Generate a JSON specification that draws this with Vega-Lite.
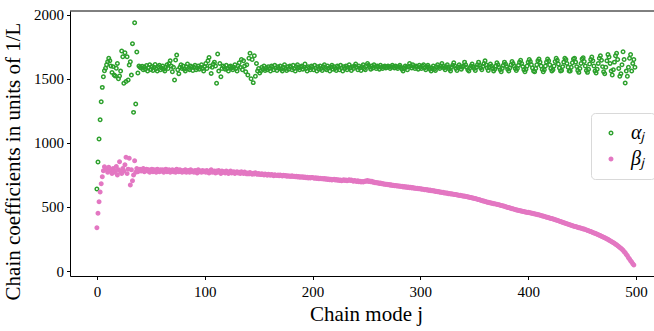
{
"$schema": "https://vega.github.io/schema/vega-lite/v6.json",
"width": 584, "height": 265,
"autosize": {"type": "none"},
"padding": {"left": 70, "top": 11, "right": 0, "bottom": 55},
"background": "white",
"config": {"view": {"stroke": null}, "font": "Liberation Serif",
  "axis": {"grid": false, "domainColor": "black", "domainWidth": 1, "tickColor": "black", "tickSize": 3.5, "tickWidth": 1, "labelFont": "Liberation Serif", "labelFontSize": 15, "labelColor": "black", "titleFont": "Liberation Serif", "titleFontSize": 21, "titleFontWeight": "normal", "titleColor": "black", "format": "d"}},
"layer": [
{"data": {"values": [
{"j":0,"a":640,"b":338},{"j":1,"a":851,"b":450},{"j":2,"a":1030,"b":541},{"j":3,"a":1180,"b":616},{"j":4,"a":1321,"b":681},{"j":5,"a":1433,"b":736},{"j":6,"a":1516,"b":783},{"j":7,"a":1563,"b":814},{"j":8,"a":1582,"b":800},{"j":9,"a":1610,"b":790},
{"j":10,"a":1633,"b":770},{"j":11,"a":1660,"b":810},{"j":12,"a":1640,"b":795},{"j":13,"a":1600,"b":780},{"j":14,"a":1550,"b":760},{"j":15,"a":1595,"b":800},{"j":16,"a":1529,"b":785},{"j":17,"a":1522,"b":770},{"j":18,"a":1582,"b":815},{"j":19,"a":1620,"b":749},
{"j":20,"a":1500,"b":790},{"j":21,"a":1522,"b":853},{"j":22,"a":1560,"b":775},{"j":23,"a":1717,"b":760},{"j":24,"a":1672,"b":800},{"j":25,"a":1465,"b":780},{"j":26,"a":1703,"b":830},{"j":27,"a":1478,"b":887},{"j":28,"a":1672,"b":760},{"j":29,"a":1490,"b":795},
{"j":30,"a":1607,"b":880},{"j":31,"a":1633,"b":671},{"j":32,"a":1529,"b":790},{"j":33,"a":1774,"b":705},{"j":34,"a":1238,"b":749},{"j":35,"a":1937,"b":860},{"j":36,"a":1303,"b":770},{"j":37,"a":1709,"b":800},{"j":38,"a":1545,"b":775},{"j":39,"a":1600,"b":790},
{"j":40,"a":1590,"b":795},{"j":41,"a":1585,"b":780},{"j":42,"a":1598,"b":790},{"j":43,"a":1570,"b":800},{"j":44,"a":1592,"b":775},{"j":45,"a":1575,"b":785},{"j":46,"a":1604,"b":795},{"j":47,"a":1560,"b":780},{"j":48,"a":1588,"b":790},{"j":49,"a":1610,"b":770},
{"j":50,"a":1572,"b":785},{"j":51,"a":1596,"b":795},{"j":52,"a":1565,"b":775},{"j":53,"a":1590,"b":790},{"j":54,"a":1612,"b":780},{"j":55,"a":1578,"b":770},{"j":56,"a":1560,"b":795},{"j":57,"a":1594,"b":785},{"j":58,"a":1605,"b":775},{"j":59,"a":1570,"b":790},
{"j":60,"a":1585,"b":780},{"j":61,"a":1600,"b":790},{"j":62,"a":1575,"b":770},{"j":63,"a":1560,"b":785},{"j":64,"a":1593,"b":795},{"j":65,"a":1610,"b":775},{"j":66,"a":1580,"b":780},{"j":67,"a":1620,"b":790},{"j":68,"a":1640,"b":770},{"j":69,"a":1600,"b":785},
{"j":70,"a":1555,"b":790},{"j":71,"a":1590,"b":775},{"j":72,"a":1490,"b":785},{"j":73,"a":1646,"b":770},{"j":74,"a":1685,"b":795},{"j":75,"a":1570,"b":780},{"j":76,"a":1540,"b":775},{"j":77,"a":1590,"b":790},{"j":78,"a":1610,"b":780},{"j":79,"a":1580,"b":770},
{"j":80,"a":1600,"b":785},{"j":81,"a":1575,"b":775},{"j":82,"a":1560,"b":790},{"j":83,"a":1595,"b":770},{"j":84,"a":1615,"b":780},{"j":85,"a":1580,"b":785},{"j":86,"a":1570,"b":770},{"j":87,"a":1600,"b":790},{"j":88,"a":1590,"b":775},{"j":89,"a":1565,"b":780},
{"j":90,"a":1590,"b":770},{"j":91,"a":1605,"b":785},{"j":92,"a":1570,"b":780},{"j":93,"a":1585,"b":765},{"j":94,"a":1600,"b":790},{"j":95,"a":1575,"b":775},{"j":96,"a":1590,"b":780},{"j":97,"a":1610,"b":770},{"j":98,"a":1580,"b":785},{"j":99,"a":1560,"b":775},
{"j":100,"a":1595,"b":780},{"j":101,"a":1620,"b":770},{"j":102,"a":1580,"b":785},{"j":103,"a":1640,"b":775},{"j":104,"a":1667,"b":765},{"j":105,"a":1600,"b":780},{"j":106,"a":1542,"b":790},{"j":107,"a":1590,"b":770},{"j":108,"a":1615,"b":775},{"j":109,"a":1630,"b":780},
{"j":110,"a":1600,"b":765},{"j":111,"a":1465,"b":780},{"j":112,"a":1693,"b":770},{"j":113,"a":1560,"b":785},{"j":114,"a":1620,"b":775},{"j":115,"a":1516,"b":760},{"j":116,"a":1580,"b":780},{"j":117,"a":1600,"b":770},{"j":118,"a":1590,"b":775},{"j":119,"a":1575,"b":765},
{"j":120,"a":1605,"b":780},{"j":121,"a":1580,"b":770},{"j":122,"a":1560,"b":760},{"j":123,"a":1595,"b":775},{"j":124,"a":1600,"b":780},{"j":125,"a":1585,"b":765},{"j":126,"a":1570,"b":770},{"j":127,"a":1590,"b":775},{"j":128,"a":1610,"b":760},{"j":129,"a":1580,"b":770},
{"j":130,"a":1560,"b":775},{"j":131,"a":1600,"b":765},{"j":132,"a":1625,"b":770},{"j":133,"a":1590,"b":760},{"j":134,"a":1650,"b":775},{"j":135,"a":1570,"b":768},{"j":136,"a":1640,"b":760},{"j":137,"a":1600,"b":772},{"j":138,"a":1555,"b":765},{"j":139,"a":1610,"b":758},
{"j":140,"a":1530,"b":765},{"j":141,"a":1660,"b":758},{"j":142,"a":1700,"b":768},{"j":143,"a":1500,"b":760},{"j":144,"a":1650,"b":755},{"j":145,"a":1470,"b":763},{"j":146,"a":1680,"b":757},{"j":147,"a":1520,"b":766},{"j":148,"a":1620,"b":759},{"j":149,"a":1560,"b":754},
{"j":150,"a":1580,"b":761},{"j":151,"a":1545,"b":756},{"j":152,"a":1560,"b":752},{"j":153,"a":1590,"b":760},{"j":154,"a":1575,"b":754},{"j":155,"a":1600,"b":749},{"j":156,"a":1565,"b":757},{"j":157,"a":1585,"b":752},{"j":158,"a":1570,"b":748},{"j":159,"a":1595,"b":755},
{"j":160,"a":1580,"b":751},{"j":161,"a":1560,"b":747},{"j":162,"a":1600,"b":754},{"j":163,"a":1590,"b":749},{"j":164,"a":1570,"b":744},{"j":165,"a":1605,"b":752},{"j":166,"a":1585,"b":748},{"j":167,"a":1565,"b":745},{"j":168,"a":1595,"b":750},{"j":169,"a":1580,"b":743},
{"j":170,"a":1600,"b":749},{"j":171,"a":1575,"b":745},{"j":172,"a":1560,"b":741},{"j":173,"a":1590,"b":748},{"j":174,"a":1610,"b":743},{"j":175,"a":1580,"b":746},{"j":176,"a":1565,"b":740},{"j":177,"a":1595,"b":744},{"j":178,"a":1575,"b":739},{"j":179,"a":1600,"b":742},
{"j":180,"a":1590,"b":738},{"j":181,"a":1570,"b":743},{"j":182,"a":1605,"b":737},{"j":183,"a":1580,"b":740},{"j":184,"a":1560,"b":735},{"j":185,"a":1595,"b":739},{"j":186,"a":1610,"b":733},{"j":187,"a":1585,"b":737},{"j":188,"a":1570,"b":732},{"j":189,"a":1590,"b":736},
{"j":190,"a":1600,"b":731},{"j":191,"a":1575,"b":735},{"j":192,"a":1590,"b":729},{"j":193,"a":1615,"b":733},{"j":194,"a":1580,"b":728},{"j":195,"a":1560,"b":731},{"j":196,"a":1595,"b":726},{"j":197,"a":1585,"b":730},{"j":198,"a":1570,"b":725},{"j":199,"a":1600,"b":729},
{"j":200,"a":1590,"b":730},{"j":201,"a":1570,"b":726},{"j":202,"a":1605,"b":723},{"j":203,"a":1585,"b":728},{"j":204,"a":1560,"b":722},{"j":205,"a":1595,"b":725},{"j":206,"a":1575,"b":720},{"j":207,"a":1600,"b":724},{"j":208,"a":1580,"b":719},{"j":209,"a":1565,"b":722},
{"j":210,"a":1595,"b":718},{"j":211,"a":1610,"b":722},{"j":212,"a":1580,"b":716},{"j":213,"a":1570,"b":720},{"j":214,"a":1600,"b":714},{"j":215,"a":1585,"b":718},{"j":216,"a":1560,"b":712},{"j":217,"a":1590,"b":716},{"j":218,"a":1605,"b":711},{"j":219,"a":1575,"b":715},
{"j":220,"a":1595,"b":716},{"j":221,"a":1580,"b":710},{"j":222,"a":1565,"b":714},{"j":223,"a":1600,"b":708},{"j":224,"a":1590,"b":712},{"j":225,"a":1570,"b":707},{"j":226,"a":1605,"b":711},{"j":227,"a":1585,"b":705},{"j":228,"a":1560,"b":709},{"j":229,"a":1595,"b":713},
{"j":230,"a":1580,"b":706},{"j":231,"a":1600,"b":710},{"j":232,"a":1570,"b":704},{"j":233,"a":1590,"b":708},{"j":234,"a":1610,"b":712},{"j":235,"a":1585,"b":706},{"j":236,"a":1565,"b":710},{"j":237,"a":1595,"b":704},{"j":238,"a":1580,"b":700},{"j":239,"a":1600,"b":706},
{"j":240,"a":1615,"b":702},{"j":241,"a":1590,"b":698},{"j":242,"a":1570,"b":704},{"j":243,"a":1600,"b":697},{"j":244,"a":1585,"b":701},{"j":245,"a":1565,"b":695},{"j":246,"a":1595,"b":699},{"j":247,"a":1610,"b":694},{"j":248,"a":1580,"b":698},{"j":249,"a":1570,"b":703},
{"j":250,"a":1600,"b":700},{"j":251,"a":1620,"b":706},{"j":252,"a":1605,"b":699},{"j":253,"a":1590,"b":703},{"j":254,"a":1575,"b":696},{"j":255,"a":1600,"b":700},{"j":256,"a":1585,"b":692},{"j":257,"a":1610,"b":695},{"j":258,"a":1595,"b":688},{"j":259,"a":1580,"b":690},
{"j":260,"a":1600,"b":686},{"j":261,"a":1590,"b":689},{"j":262,"a":1575,"b":683},{"j":263,"a":1605,"b":686},{"j":264,"a":1590,"b":680},{"j":265,"a":1580,"b":683},{"j":266,"a":1595,"b":677},{"j":267,"a":1600,"b":680},{"j":268,"a":1585,"b":675},{"j":269,"a":1590,"b":678},
{"j":270,"a":1600,"b":673},{"j":271,"a":1595,"b":676},{"j":272,"a":1580,"b":670},{"j":273,"a":1590,"b":673},{"j":274,"a":1605,"b":667},{"j":275,"a":1595,"b":670},{"j":276,"a":1585,"b":665},{"j":277,"a":1600,"b":668},{"j":278,"a":1590,"b":663},{"j":279,"a":1580,"b":665},
{"j":280,"a":1595,"b":661},{"j":281,"a":1605,"b":664},{"j":282,"a":1590,"b":659},{"j":283,"a":1575,"b":662},{"j":284,"a":1560,"b":656},{"j":285,"a":1585,"b":659},{"j":286,"a":1600,"b":654},{"j":287,"a":1590,"b":657},{"j":288,"a":1570,"b":652},{"j":289,"a":1595,"b":655},
{"j":290,"a":1620,"b":650},{"j":291,"a":1600,"b":653},{"j":292,"a":1585,"b":648},{"j":293,"a":1610,"b":651},{"j":294,"a":1595,"b":646},{"j":295,"a":1580,"b":648},{"j":296,"a":1600,"b":643},{"j":297,"a":1590,"b":646},{"j":298,"a":1575,"b":641},{"j":299,"a":1605,"b":643},
{"j":300,"a":1590,"b":639},{"j":301,"a":1580,"b":642},{"j":302,"a":1600,"b":637},{"j":303,"a":1610,"b":639},{"j":304,"a":1585,"b":634},{"j":305,"a":1570,"b":637},{"j":306,"a":1595,"b":632},{"j":307,"a":1605,"b":634},{"j":308,"a":1590,"b":629},{"j":309,"a":1575,"b":632},
{"j":310,"a":1560,"b":627},{"j":311,"a":1585,"b":629},{"j":312,"a":1600,"b":624},{"j":313,"a":1575,"b":626},{"j":314,"a":1565,"b":621},{"j":315,"a":1595,"b":623},{"j":316,"a":1610,"b":618},{"j":317,"a":1590,"b":620},{"j":318,"a":1580,"b":615},{"j":319,"a":1600,"b":617},
{"j":320,"a":1620,"b":612},{"j":321,"a":1600,"b":614},{"j":322,"a":1585,"b":609},{"j":323,"a":1570,"b":611},{"j":324,"a":1595,"b":606},{"j":325,"a":1610,"b":608},{"j":326,"a":1590,"b":603},{"j":327,"a":1575,"b":605},{"j":328,"a":1560,"b":601},{"j":329,"a":1590,"b":603},
{"j":330,"a":1605,"b":599},{"j":331,"a":1625,"b":600},{"j":332,"a":1600,"b":596},{"j":333,"a":1580,"b":597},{"j":334,"a":1565,"b":593},{"j":335,"a":1590,"b":594},{"j":336,"a":1610,"b":590},{"j":337,"a":1595,"b":591},{"j":338,"a":1575,"b":587},{"j":339,"a":1590,"b":588},
{"j":340,"a":1600,"b":584},{"j":341,"a":1630,"b":585},{"j":342,"a":1610,"b":581},{"j":343,"a":1590,"b":581},{"j":344,"a":1570,"b":577},{"j":345,"a":1560,"b":578},{"j":346,"a":1585,"b":574},{"j":347,"a":1600,"b":574},{"j":348,"a":1615,"b":570},{"j":349,"a":1595,"b":570},
{"j":350,"a":1580,"b":566},{"j":351,"a":1565,"b":566},{"j":352,"a":1590,"b":562},{"j":353,"a":1610,"b":561},{"j":354,"a":1630,"b":557},{"j":355,"a":1605,"b":556},{"j":356,"a":1585,"b":552},{"j":357,"a":1570,"b":551},{"j":358,"a":1595,"b":547},{"j":359,"a":1620,"b":546},
{"j":360,"a":1640,"b":542},{"j":361,"a":1610,"b":541},{"j":362,"a":1585,"b":537},{"j":363,"a":1565,"b":537},{"j":364,"a":1590,"b":533},{"j":365,"a":1615,"b":533},{"j":366,"a":1600,"b":529},{"j":367,"a":1580,"b":529},{"j":368,"a":1560,"b":525},{"j":369,"a":1575,"b":525},
{"j":370,"a":1600,"b":522},{"j":371,"a":1625,"b":521},{"j":372,"a":1610,"b":518},{"j":373,"a":1590,"b":517},{"j":374,"a":1570,"b":514},{"j":375,"a":1555,"b":512},{"j":376,"a":1580,"b":510},{"j":377,"a":1605,"b":507},{"j":378,"a":1630,"b":505},{"j":379,"a":1615,"b":501},
{"j":380,"a":1595,"b":500},{"j":381,"a":1575,"b":496},{"j":382,"a":1560,"b":495},{"j":383,"a":1585,"b":491},{"j":384,"a":1610,"b":490},{"j":385,"a":1635,"b":486},{"j":386,"a":1620,"b":485},{"j":387,"a":1600,"b":481},{"j":388,"a":1580,"b":480},{"j":389,"a":1565,"b":476},
{"j":390,"a":1580,"b":476},{"j":391,"a":1605,"b":472},{"j":392,"a":1630,"b":472},{"j":393,"a":1645,"b":468},{"j":394,"a":1620,"b":468},{"j":395,"a":1595,"b":464},{"j":396,"a":1570,"b":465},{"j":397,"a":1555,"b":461},{"j":398,"a":1575,"b":461},{"j":399,"a":1600,"b":457},
{"j":400,"a":1630,"b":458},{"j":401,"a":1650,"b":454},{"j":402,"a":1635,"b":454},{"j":403,"a":1610,"b":450},{"j":404,"a":1585,"b":451},{"j":405,"a":1560,"b":447},{"j":406,"a":1555,"b":447},{"j":407,"a":1580,"b":443},{"j":408,"a":1610,"b":443},{"j":409,"a":1640,"b":439},
{"j":410,"a":1655,"b":439},{"j":411,"a":1630,"b":435},{"j":412,"a":1600,"b":434},{"j":413,"a":1575,"b":430},{"j":414,"a":1555,"b":429},{"j":415,"a":1570,"b":425},{"j":416,"a":1600,"b":424},{"j":417,"a":1630,"b":420},{"j":418,"a":1655,"b":419},{"j":419,"a":1640,"b":415},
{"j":420,"a":1610,"b":414},{"j":421,"a":1580,"b":410},{"j":422,"a":1560,"b":409},{"j":423,"a":1570,"b":405},{"j":424,"a":1600,"b":404},{"j":425,"a":1635,"b":400},{"j":426,"a":1660,"b":399},{"j":427,"a":1645,"b":395},{"j":428,"a":1615,"b":393},{"j":429,"a":1585,"b":389},
{"j":430,"a":1560,"b":387},{"j":431,"a":1565,"b":383},{"j":432,"a":1595,"b":381},{"j":433,"a":1630,"b":377},{"j":434,"a":1660,"b":375},{"j":435,"a":1650,"b":371},{"j":436,"a":1620,"b":369},{"j":437,"a":1590,"b":365},{"j":438,"a":1560,"b":363},{"j":439,"a":1560,"b":359},
{"j":440,"a":1590,"b":357},{"j":441,"a":1625,"b":353},{"j":442,"a":1655,"b":352},{"j":443,"a":1660,"b":348},{"j":444,"a":1630,"b":347},{"j":445,"a":1595,"b":343},{"j":446,"a":1565,"b":342},{"j":447,"a":1550,"b":338},{"j":448,"a":1580,"b":337},{"j":449,"a":1620,"b":333},
{"j":450,"a":1655,"b":332},{"j":451,"a":1665,"b":328},{"j":452,"a":1635,"b":327},{"j":453,"a":1600,"b":323},{"j":454,"a":1565,"b":321},{"j":455,"a":1550,"b":317},{"j":456,"a":1575,"b":315},{"j":457,"a":1615,"b":311},{"j":458,"a":1650,"b":308},{"j":459,"a":1670,"b":304},
{"j":460,"a":1640,"b":301},{"j":461,"a":1600,"b":297},{"j":462,"a":1560,"b":294},{"j":463,"a":1545,"b":290},{"j":464,"a":1575,"b":287},{"j":465,"a":1620,"b":283},{"j":466,"a":1660,"b":280},{"j":467,"a":1680,"b":275},{"j":468,"a":1645,"b":272},{"j":469,"a":1595,"b":267},
{"j":470,"a":1555,"b":264},{"j":471,"a":1540,"b":259},{"j":472,"a":1590,"b":256},{"j":473,"a":1640,"b":250},{"j":474,"a":1690,"b":247},{"j":475,"a":1670,"b":241},{"j":476,"a":1620,"b":237},{"j":477,"a":1560,"b":231},{"j":478,"a":1530,"b":227},{"j":479,"a":1570,"b":220},
{"j":480,"a":1630,"b":216},{"j":481,"a":1680,"b":209},{"j":482,"a":1700,"b":205},{"j":483,"a":1650,"b":197},{"j":484,"a":1580,"b":192},{"j":485,"a":1520,"b":184},{"j":486,"a":1540,"b":178},{"j":487,"a":1610,"b":169},{"j":488,"a":1711,"b":162},{"j":489,"a":1650,"b":151},
{"j":490,"a":1467,"b":142},{"j":491,"a":1560,"b":128},{"j":492,"a":1520,"b":119},{"j":493,"a":1590,"b":104},{"j":494,"a":1660,"b":94},{"j":495,"a":1690,"b":80},{"j":496,"a":1560,"b":70},{"j":497,"a":1620,"b":56},{"j":498,"a":1650,"b":47},{"j":499,"a":1590}
]},
"transform": [{"fold": ["a", "b"], "as": ["s", "v"]}, {"filter": "isValid(datum.v)"}],
"mark": {"type": "point", "filled": true, "size": 12, "strokeWidth": 1.5, "opacity": 1},
"encoding": {
  "x": {"field": "j", "type": "quantitative", "scale": {"domain": [-24.95, 516.7], "nice": false, "zero": false},
        "axis": {"values": [0, 100, 200, 300, 400, 500], "title": "Chain mode j", "labelPadding": 5, "titlePadding": 4, "titleX": 296}},
  "y": {"field": "v", "type": "quantitative", "scale": {"domain": [-39, 2029], "nice": false, "zero": false},
        "axis": {"values": [0, 500, 1000, 1500, 2000], "title": "Chain coefficients in units of 1/L", "labelPadding": 3, "titlePadding": 10, "titleY": 150}},
  "stroke": {"field": "s", "type": "nominal", "scale": {"domain": ["a", "b"], "range": ["#2ca02c", "#e377c2"]},
        "legend": {"title": null, "orient": "none", "legendX": 521, "legendY": 102, "labelExpr": "datum.value == 'a' ? 'αⱼ' : 'βⱼ'", "labelFont": "Liberation Serif", "labelFontSize": 20, "labelFontStyle": "italic", "labelColor": "black", "symbolSize": 12, "symbolStrokeWidth": 1.5, "strokeColor": "#d9d9d9", "cornerRadius": 4, "padding": 10, "fillColor": "white", "rowPadding": 6, "labelOffset": 10}},
  "fill": {"field": "s", "type": "nominal", "scale": {"domain": ["a", "b"], "range": ["rgba(255,255,255,0)", "#e377c2"]},
        "legend": {"title": null, "orient": "none", "legendX": 521, "legendY": 102, "labelExpr": "datum.value == 'a' ? 'αⱼ' : 'βⱼ'", "labelFont": "Liberation Serif", "labelFontSize": 20, "labelFontStyle": "italic", "labelColor": "black", "symbolSize": 12, "symbolStrokeWidth": 1.5, "strokeColor": "#d9d9d9", "cornerRadius": 4, "padding": 10, "fillColor": "white", "rowPadding": 6, "labelOffset": 10}}
}},
{"data": {"values": [{}]}, "mark": {"type": "rule", "color": "black", "strokeWidth": 1}, "encoding": {"y": {"datum": 2029}}}
]
}
